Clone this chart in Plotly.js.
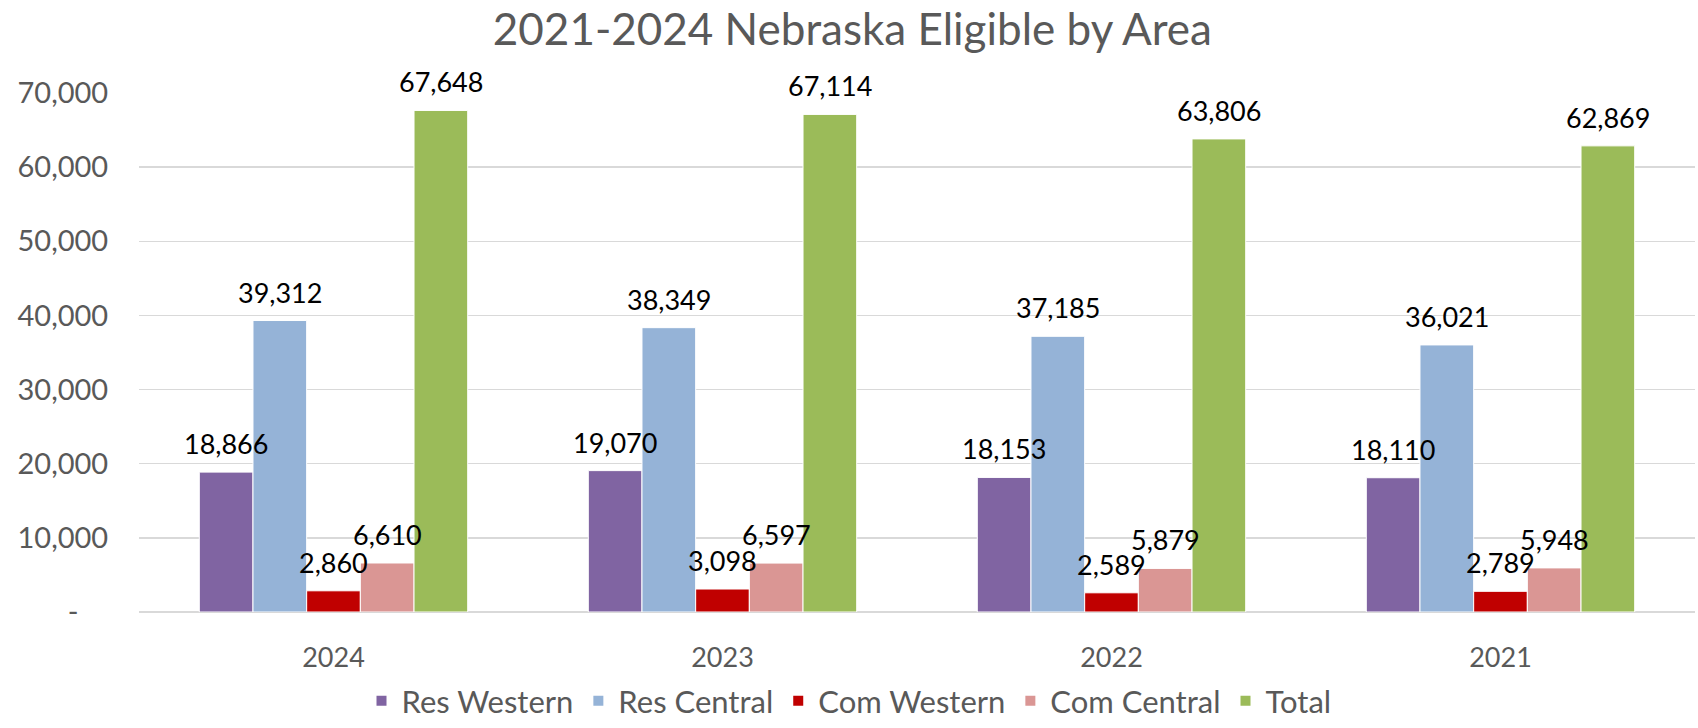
<!DOCTYPE html>
<html>
<head>
<meta charset="utf-8">
<script src="https://cdn.plot.ly/plotly-3.0.1.min.js"></script>
<style>html,body{margin:0;padding:0;background:#fff;}#chart{width:1698px;height:728px;}</style>
</head>
<body>
<div id="chart"></div>
<script>
const years = ["2024", "2023", "2022", "2021"];
const resWestern = [18866, 19070, 18153, 18110];
const resCentral = [39312, 38349, 37185, 36021];
const comWestern = [2860, 3098, 2589, 2789];
const comCentral = [6610, 6597, 5879, 5948];
const total = [67648, 67114, 63806, 62869];
const seriesNames = ["Res Western", "Res Central", "Com Western", "Com Central", "Total"];
const seriesColors = ["#8064A2", "#95B3D7", "#C00000", "#DA9694", "#9BBB59"];
const yTickVals = [0, 10000, 20000, 30000, 40000, 50000, 60000, 70000];
const yTickText = ["-\u00a0\u00a0\u00a0\u00a0", "10,000", "20,000", "30,000", "40,000", "50,000", "60,000", "70,000"];

const FONT = "Lato, 'Open Sans', sans-serif";
const allSeries = [resWestern, resCentral, comWestern, comCentral, total];
const fmt = v => v.toLocaleString("en-US");

const W = 1698, H = 728;
const margin = {l: 139, r: 3, t: 93, b: 116};
const bargap = 0.31;
const nSeries = allSeries.length;
const groupPx = (W - margin.l - margin.r) / years.length;
const barPx = groupPx * (1 - bargap) / nSeries;

const traces = allSeries.map((vals, i) => ({
  type: "bar",
  name: seriesNames[i],
  x: years,
  y: vals,
  marker: {color: seriesColors[i], line: {color: "#ffffff", width: 1}},
  hoverinfo: "skip"
}));

const annotations = [];
allSeries.forEach((vals, i) => {
  vals.forEach((v, j) => {
    annotations.push({
      x: j, y: v, xref: "x", yref: "y",
      text: fmt(v), showarrow: false,
      xanchor: "center", yanchor: "bottom",
      xshift: (i - (nSeries - 1) / 2) * barPx,
      yshift: 10,
      font: {family: FONT, size: 27, color: "#000000"}
    });
  });
});

const layout = {
  width: W,
  height: H,
  paper_bgcolor: "#ffffff",
  plot_bgcolor: "#ffffff",
  margin: margin,
  barmode: "group",
  bargap: bargap,
  bargroupgap: 0,
  title: {
    text: "2021-2024 Nebraska Eligible by Area",
    font: {family: FONT, size: 44, color: "#595959"},
    x: 0.502, xanchor: "center", xref: "container",
    y: 0.96, yanchor: "middle", yref: "container"
  },
  font: {family: FONT, color: "#595959"},
  xaxis: {
    type: "category",
    categoryorder: "array",
    categoryarray: years,
    range: [-0.5, years.length - 0.5],
    autorange: false,
    showgrid: false,
    showline: false,
    zeroline: false,
    ticks: "outside",
    ticklen: 22,
    tickcolor: "rgba(0,0,0,0)",
    tickfont: {family: FONT, size: 27, color: "#595959"}
  },
  yaxis: {
    range: [0, 70000],
    autorange: false,
    tickvals: yTickVals,
    ticktext: yTickText,
    showgrid: true,
    gridcolor: "#D9D9D9",
    gridwidth: 1.5,
    zeroline: true,
    zerolinecolor: "#D9D9D9",
    zerolinewidth: 1.5,
    showline: false,
    ticks: "outside",
    ticklen: 24,
    tickcolor: "rgba(0,0,0,0)",
    tickfont: {family: FONT, size: 29, color: "#595959"}
  },
  annotations: annotations,
  showlegend: true,
  legend: {
    orientation: "h",
    x: 0.5, xanchor: "center", xref: "container",
    y: 0.0, yanchor: "bottom", yref: "container",
    font: {family: FONT, size: 31, color: "#595959"},
    itemsizing: "constant",
    traceorder: "normal"
  }
};

Plotly.newPlot("chart", traces, layout, {displayModeBar: false, staticPlot: true});
</script>
</body>
</html>
